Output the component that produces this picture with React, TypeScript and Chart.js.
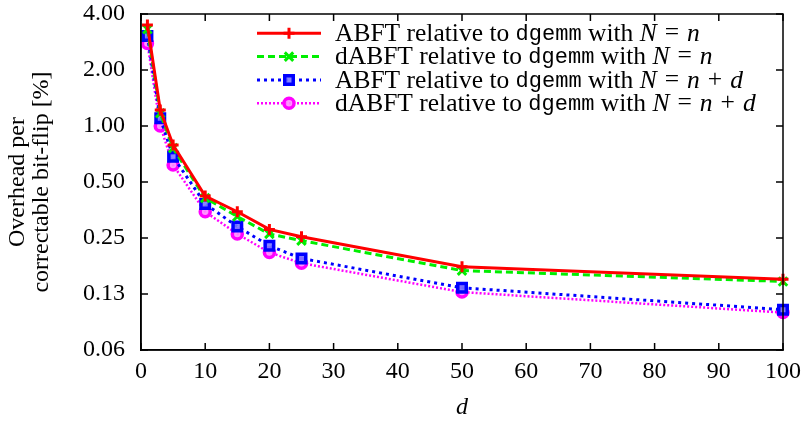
import React, { useEffect, useRef } from "react";
import { Chart, registerables } from "chart.js";
Chart.register(...registerables);

const dValues = [1, 3, 5, 10, 15, 20, 25, 50, 100];
const abftN = [3.49, 1.22, 0.79, 0.42, 0.346, 0.278, 0.254, 0.175, 0.15];
const dabftN = [3.31, 1.17, 0.76, 0.41, 0.326, 0.263, 0.242, 0.167, 0.146];
const abftNd = [3.05, 1.1, 0.684, 0.381, 0.288, 0.227, 0.194, 0.135, 0.103];
const dabftNd = [2.78, 1.0, 0.617, 0.346, 0.263, 0.209, 0.183, 0.128, 0.0993];

const yTickValues = [0.0625, 0.125, 0.25, 0.5, 1, 2, 4];
const yTickLabels = ["0.06", "0.13", "0.25", "0.50", "1.00", "2.00", "4.00"];
const xTickValues = [0, 10, 20, 30, 40, 50, 60, 70, 80, 90, 100];

type Seg = { t: string; f: "serif" | "mono" | "italic" | "math" };
const legendLabels: Seg[][] = [
  [
    { t: "ABFT relative to ", f: "serif" },
    { t: "dgemm", f: "mono" },
    { t: " with ", f: "serif" },
    { t: "N", f: "italic" },
    { t: "=", f: "math" },
    { t: "n", f: "italic" },
  ],
  [
    { t: "dABFT relative to ", f: "serif" },
    { t: "dgemm", f: "mono" },
    { t: " with ", f: "serif" },
    { t: "N", f: "italic" },
    { t: "=", f: "math" },
    { t: "n", f: "italic" },
  ],
  [
    { t: "ABFT relative to ", f: "serif" },
    { t: "dgemm", f: "mono" },
    { t: " with ", f: "serif" },
    { t: "N", f: "italic" },
    { t: "=", f: "math" },
    { t: "n", f: "italic" },
    { t: "+", f: "math" },
    { t: "d", f: "italic" },
  ],
  [
    { t: "dABFT relative to ", f: "serif" },
    { t: "dgemm", f: "mono" },
    { t: " with ", f: "serif" },
    { t: "N", f: "italic" },
    { t: "=", f: "math" },
    { t: "n", f: "italic" },
    { t: "+", f: "math" },
    { t: "d", f: "italic" },
  ],
];

const SERIF = "'Liberation Serif', 'Times New Roman', serif";
const FS = 24;
const LFS = 25.5;

const fontFor = (f: string) =>
  f === "mono"
    ? `22px 'Liberation Mono', 'DejaVu Sans Mono', monospace`
    : f === "italic"
    ? `italic ${LFS}px ${SERIF}`
    : `${LFS}px ${SERIF}`;

const framePlugin = {
  id: "frameAndLegend",
  afterDatasetsDraw(chart: any) {
    const { ctx, chartArea: a, scales } = chart;
    ctx.save();
    ctx.strokeStyle = "#000";
    ctx.lineWidth = 1.5;
    ctx.setLineDash([]);
    ctx.strokeRect(a.left, a.top, a.right - a.left, a.bottom - a.top);
    const L = 7;
    ctx.beginPath();
    for (const v of xTickValues) {
      const px = scales.x.getPixelForValue(v);
      ctx.moveTo(px, a.bottom);
      ctx.lineTo(px, a.bottom - L);
      ctx.moveTo(px, a.top);
      ctx.lineTo(px, a.top + L);
    }
    for (const v of yTickValues) {
      const py = scales.y.getPixelForValue(v);
      ctx.moveTo(a.left, py);
      ctx.lineTo(a.left + L, py);
      ctx.moveTo(a.right, py);
      ctx.lineTo(a.right - L, py);
    }
    ctx.stroke();

    // legend
    const x0 = 257;
    const x1 = 321;
    const tx = 335;
    const y0 = 33.3;
    const dy = 23.3;
    chart.data.datasets.forEach((ds: any, i: number) => {
      const y = y0 + i * dy;
      ctx.save();
      ctx.strokeStyle = ds.borderColor;
      ctx.lineWidth = ds.borderWidth;
      ctx.setLineDash(ds.borderDash || []);
      ctx.beginPath();
      ctx.moveTo(x0, y);
      ctx.lineTo(x1, y);
      ctx.stroke();
      ctx.setLineDash([]);
      ctx.lineWidth = ds.pointBorderWidth;
      ctx.strokeStyle = ds.pointBorderColor;
      ctx.fillStyle = ds.pointBackgroundColor;
      const mx = (x0 + x1) / 2;
      const r = ds.pointRadius;
      const st = ds.pointStyle;
      ctx.beginPath();
      if (st === "cross") {
        ctx.moveTo(mx - r, y);
        ctx.lineTo(mx + r, y);
        ctx.moveTo(mx, y - r);
        ctx.lineTo(mx, y + r);
        ctx.stroke();
      } else if (st === "crossRot") {
        const q = r * 0.7071;
        ctx.moveTo(mx - q, y - q);
        ctx.lineTo(mx + q, y + q);
        ctx.moveTo(mx - q, y + q);
        ctx.lineTo(mx + q, y - q);
        ctx.stroke();
      } else if (st === "rect") {
        const q = r * 0.7071;
        ctx.rect(mx - q, y - q, 2 * q, 2 * q);
        ctx.fill();
        ctx.stroke();
      } else {
        ctx.arc(mx, y, r, 0, Math.PI * 2);
        ctx.fill();
        ctx.stroke();
      }
      ctx.restore();

      ctx.fillStyle = "#000";
      ctx.textBaseline = "middle";
      ctx.textAlign = "left";
      let cx = tx;
      for (const seg of legendLabels[i]) {
        ctx.font = fontFor(seg.f);
        if (seg.f === "math") {
          cx += 8;
          ctx.fillText(seg.t, cx, y);
          cx += ctx.measureText(seg.t).width + 8;
        } else {
          ctx.fillText(seg.t, cx, y + 1);
          cx += ctx.measureText(seg.t).width;
        }
      }
    });
    ctx.restore();
  },
};

function mk(values: number[]) {
  return dValues.map((d, i) => ({ x: d, y: values[i] }));
}

export default function App() {
  const ref = useRef<HTMLCanvasElement>(null);
  useEffect(() => {
    const common = { clip: false as any, tension: 0, fill: false };
    const chart = new Chart(ref.current!, {
      type: "line",
      data: {
        datasets: [
          {
            ...common,
            label: "ABFT N=n",
            data: mk(abftN),
            borderColor: "#ff0000",
            borderWidth: 3,
            pointStyle: "cross",
            pointRadius: 5.5,
            pointBorderWidth: 3,
            pointBorderColor: "#ff0000",
            pointBackgroundColor: "#ff0000",
          },
          {
            ...common,
            label: "dABFT N=n",
            data: mk(dabftN),
            borderColor: "#00ee00",
            borderWidth: 3,
            borderDash: [7, 4],
            pointStyle: "crossRot",
            pointRadius: 6,
            pointBorderWidth: 3,
            pointBorderColor: "#00ee00",
            pointBackgroundColor: "#00ee00",
          },
          {
            ...common,
            label: "ABFT N=n+d",
            data: mk(abftNd),
            borderColor: "#0000ff",
            borderWidth: 3,
            borderDash: [3, 4],
            pointStyle: "rect",
            pointRadius: 6,
            pointBorderWidth: 3.5,
            pointBorderColor: "#0000ff",
            pointBackgroundColor: "rgba(120,120,255,0.9)",
          },
          {
            ...common,
            label: "dABFT N=n+d",
            data: mk(dabftNd),
            borderColor: "#ff00ff",
            borderWidth: 2.5,
            borderDash: [2, 2],
            pointStyle: "circle",
            pointRadius: 5,
            pointBorderWidth: 3.5,
            pointBorderColor: "#ff00ff",
            pointBackgroundColor: "rgba(255,140,255,0.9)",
          },
        ],
      },
      options: {
        animation: false,
        responsive: false,
        maintainAspectRatio: false,
        layout: { padding: { left: 0, top: 14, right: 22, bottom: 0 } },
        plugins: { legend: { display: false }, tooltip: { enabled: false } },
        scales: {
          x: {
            type: "linear",
            min: 0,
            max: 100,
            afterBuildTicks: (s: any) => {
              s.ticks = xTickValues.map((v) => ({ value: v }));
            },
            afterFit: (s: any) => {
              s.height = 71;
              s.paddingLeft = 0;
              s.paddingRight = 0;
            },
            grid: { display: false, drawTicks: false },
            border: { display: true, color: "#000", width: 1.5 },
            ticks: {
              color: "#000",
              font: { family: SERIF, size: FS, lineHeight: 1 },
              padding: 10,
              maxRotation: 0,
              autoSkip: false,
            },
            title: {
              display: true,
              text: "d",
              color: "#000",
              font: { family: SERIF, size: FS, style: "italic", lineHeight: 1 },
              padding: { top: 0, bottom: 1 },
            },
          },
          y: {
            type: "logarithmic",
            min: 0.0625,
            max: 4,
            afterBuildTicks: (s: any) => {
              s.ticks = yTickValues.map((v) => ({ value: v }));
            },
            afterFit: (s: any) => {
              s.width = 141;
              s.paddingTop = 0;
              s.paddingBottom = 0;
            },
            grid: { display: false, drawTicks: false },
            border: { display: true, color: "#000", width: 1.5 },
            ticks: {
              color: "#000",
              font: { family: SERIF, size: FS, lineHeight: 1 },
              padding: 16,
              autoSkip: false,
              callback: (_v: any, i: number) => yTickLabels[i],
            },
            title: {
              display: true,
              text: ["Overhead per", "correctable bit-flip [%]"],
              color: "#000",
              font: { family: SERIF, size: FS, lineHeight: 1 },
              padding: { top: 6, bottom: 0 },
            },
          },
        },
      },
      plugins: [framePlugin],
    });
    return () => chart.destroy();
  }, []);
  return (
    <div style={{ position: "absolute", left: 0, top: 0, width: 805, height: 421, background: "#fff" }}>
      <canvas ref={ref} width={805} height={421} style={{ width: 805, height: 421 }} />
    </div>
  );
}
